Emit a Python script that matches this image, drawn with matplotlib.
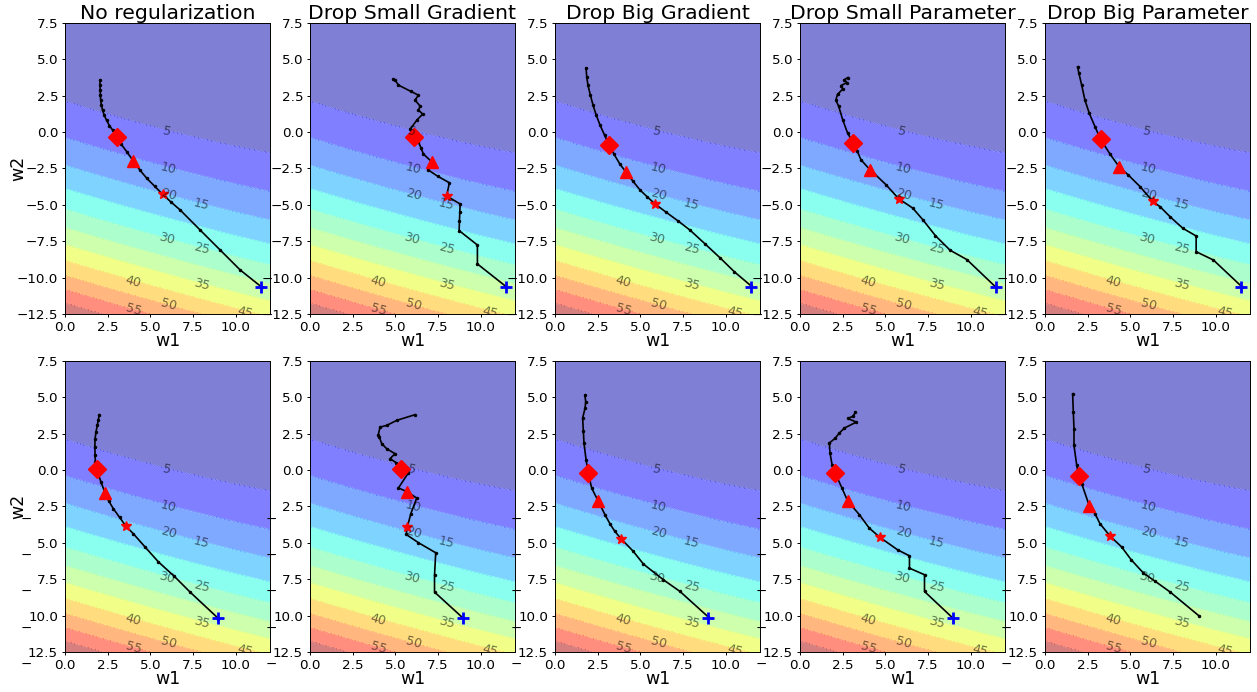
import numpy as np
import matplotlib
matplotlib.use("Agg")
import matplotlib.pyplot as plt
from matplotlib.ticker import FuncFormatter

titles = ["No regularization", "Drop Small Gradient", "Drop Big Gradient",
          "Drop Small Parameter", "Drop Big Parameter"]

levels = np.arange(5, 70, 5)
w1_grid = np.linspace(0, 12, 300)
w2_grid = np.linspace(-12.5, 7.5, 300)
curv_w2, valley_w2, valley_slope = 0.14, 8.05, 0.336
curv_w1, centre_w1, floor = 0.0105, 3.0, 5.0

# contour labels as they sit in every panel
label_text = ["5", "10", "20", "15", "30", "25", "40", "35", "55", "50", "45"]
label_w1 = [5.96, 6.05, 6.05, 8.0, 5.96, 8.0, 4.0, 8.0, 4.0, 6.05, 10.55]
label_w2 = [0.02, -2.49, -4.32, -5.0, -7.36, -7.98, -10.27, -10.45, -12.22, -11.87, -12.4]

# top row trajectories
noreg_top_w1 = [11.52, 10.25, 9.08, 7.91, 6.74, 6.2, 5.72, 5.25, 4.79, 4.38, 4.0, 3.62, 3.3, 3.03,
                2.8, 2.6, 2.44, 2.3, 2.2, 2.13, 2.09, 2.07, 2.06, 2.05, 2.05]
noreg_top_w2 = [-10.66, -9.47, -8.1, -6.73, -5.35, -4.8, -4.28, -3.72, -3.18, -2.6, -1.99, -1.35, -0.85, -0.32,
                0.12, 0.45, 0.8, 1.15, 1.5, 1.85, 2.2, 2.55, 2.9, 3.25, 3.57]
dsg_top_w1 = [11.48, 9.8, 9.8, 8.73, 8.75, 8.77, 8.79, 8.0, 8.16, 7.5, 6.93, 6.95, 7.13, 6.64, 6.5, 6.35,
              6.09, 5.86, 6.25, 6.6, 6.35, 6.45, 6.15, 6.35, 5.9, 5.18, 4.98, 4.88]
dsg_top_w2 = [-10.62, -9.06, -7.76, -6.77, -6.1, -5.5, -4.94, -4.39, -3.48, -3.05, -2.61, -2.35, -2.04, -1.51,
              -1.1, -0.66, -0.32, 0.18, 0.82, 1.24, 1.51, 1.78, 2.2, 2.54, 2.8, 3.23, 3.57, 3.62]
dbg_top_w1 = [11.48, 10.5, 9.67, 8.8, 7.9, 7.2, 6.5, 5.86, 5.4, 4.98, 4.55, 4.16, 3.8, 3.45, 3.16, 2.9,
              2.64, 2.42, 2.23, 2.07, 1.93, 1.86, 1.82]
dbg_top_w2 = [-10.57, -9.6, -8.65, -7.7, -6.73, -6.1, -5.5, -4.94, -4.45, -3.98, -3.35, -2.75, -2.2, -1.5,
              -0.89, -0.2, 0.48, 1.15, 1.85, 2.55, 3.23, 3.8, 4.39]
dsp_top_w1 = [11.45, 9.77, 8.79, 7.93, 7.19, 6.6, 5.78, 5.04, 4.36, 4.1, 3.57, 3.35, 3.13, 2.79, 2.5,
              2.27, 2.1, 2.2, 2.5, 2.4, 2.75, 2.6, 2.8]
dsp_top_w2 = [-10.64, -8.76, -8.12, -7.12, -6.02, -5.22, -4.58, -3.62, -2.86, -2.59, -1.9, -1.3, -0.76,
              -0.07, 0.85, 1.76, 2.2, 2.6, 2.95, 3.2, 3.4, 3.6, 3.75]
dbp_top_w1 = [11.52, 9.86, 8.85, 8.85, 8.07, 7.32, 6.74, 6.31, 5.57, 4.88, 4.34, 3.81, 3.26, 2.93, 2.6,
              2.34, 2.15, 1.99, 1.91]
dbp_top_w2 = [-10.62, -8.79, -8.22, -7.14, -6.61, -5.81, -5.13, -4.76, -3.75, -2.95, -2.38, -1.51, -0.5,
              0.37, 1.28, 2.2, 3.23, 4.03, 4.49]

# bottom row trajectories
noreg_bot_w1 = [8.98, 7.32, 6.4, 5.47, 4.7, 4.0, 3.57, 3.2, 2.83, 2.55, 2.34, 2.1, 1.86, 1.78, 1.76, 1.75,
                1.76, 1.82, 1.89, 1.95, 2.01]
noreg_bot_w2 = [-10.2, -8.38, -7.3, -6.31, -5.3, -4.37, -3.86, -3.25, -2.65, -2.1, -1.55, -0.8, 0.06, 0.55,
                1.02, 1.6, 2.16, 2.65, 3.07, 3.45, 3.81]
dsg_bot_w1 = [8.95, 7.29, 7.29, 7.36, 6.35, 5.63, 5.7, 5.9, 6.25, 5.7, 5.18, 5.76, 5.31, 5.04, 4.69, 4.98,
              4.49, 4.2, 4.06, 4.0, 4.1, 4.49, 5.08, 6.15]
dsg_bot_w2 = [-10.16, -8.38, -7.23, -5.68, -4.99, -4.42, -3.91, -3.0, -1.92, -1.5, -1.22, -0.19, 0.1, 0.51,
              0.79, 1.13, 1.47, 1.82, 2.27, 2.43, 2.96, 3.07, 3.42, 3.81]
dbg_bot_w1 = [8.98, 7.32, 6.35, 5.18, 4.59, 3.87, 3.5, 3.22, 2.93, 2.54, 2.15, 1.95, 1.82, 1.7, 1.66, 1.62,
              1.76, 1.8, 1.75]
dbg_bot_w2 = [-10.1, -8.34, -7.54, -6.46, -5.59, -4.72, -4.2, -3.69, -3.07, -2.15, -1.24, -0.21, 0.71, 1.86,
              2.7, 3.57, 4.26, 4.7, 5.15]
dsp_bot_w1 = [8.95, 7.29, 7.29, 6.41, 6.41, 5.72, 4.69, 4.06, 3.48, 2.79, 2.46, 2.07, 1.88, 1.76, 1.72,
              2.07, 2.3, 2.6, 3.3, 2.8, 3.1, 3.24]
dsp_bot_w2 = [-10.17, -8.34, -7.19, -6.74, -5.89, -5.48, -4.63, -3.99, -3.07, -2.11, -1.24, -0.21, 0.37,
              1.17, 1.86, 2.2, 2.54, 2.89, 3.3, 3.55, 3.7, 3.96]
dbp_bot_w1 = [9.02, 7.32, 6.45, 5.76, 5.04, 4.49, 3.81, 3.22, 2.93, 2.6, 2.15, 1.99, 1.86, 1.7, 1.7, 1.66, 1.62]
dbp_bot_w2 = [-10.02, -8.37, -7.64, -7.07, -6.15, -5.28, -4.53, -3.68, -2.99, -2.46, -0.93, -0.43, 0.33,
              1.7, 2.85, 3.99, 5.25]

top_paths = [(noreg_top_w1, noreg_top_w2), (dsg_top_w1, dsg_top_w2), (dbg_top_w1, dbg_top_w2),
             (dsp_top_w1, dsp_top_w2), (dbp_top_w1, dbp_top_w2)]
bot_paths = [(noreg_bot_w1, noreg_bot_w2), (dsg_bot_w1, dsg_bot_w2), (dbg_bot_w1, dbg_bot_w2),
             (dsp_bot_w1, dsp_bot_w2), (dbp_bot_w1, dbp_bot_w2)]

# checkpoint markers
diamond_top_w1 = [3.03, 6.09, 3.16, 3.13, 3.26]
diamond_top_w2 = [-0.32, -0.32, -0.89, -0.76, -0.5]
triangle_top_w1 = [4.0, 7.13, 4.16, 4.1, 4.34]
triangle_top_w2 = [-1.99, -2.04, -2.75, -2.59, -2.38]
star_top_w1 = [5.72, 8.0, 5.86, 5.78, 6.31]
star_top_w2 = [-4.28, -4.39, -4.94, -4.58, -4.76]
diamond_bot_w1 = [1.86, 5.31, 1.95, 2.07, 1.99]
diamond_bot_w2 = [0.06, 0.1, -0.21, -0.21, -0.43]
triangle_bot_w1 = [2.34, 5.7, 2.54, 2.79, 2.6]
triangle_bot_w2 = [-1.55, -1.5, -2.15, -2.11, -2.46]
star_bot_w1 = [3.57, 5.7, 3.87, 4.69, 3.81]
star_bot_w2 = [-3.86, -3.91, -4.72, -4.63, -4.53]
start_top = (11.5, -10.65)
start_bot = (8.97, -10.15)
show_start_bot = [True, True, True, True, False]


def loss(a, b):
    return curv_w2 * (b - valley_w2 + valley_slope * a) ** 2 + curv_w1 * (a - centre_w1) ** 2 + floor


W1, W2 = np.meshgrid(w1_grid, w2_grid)
Z = loss(W1, W2)

plt.rcParams["axes.linewidth"] = 0.7
fig, axes = plt.subplots(2, 5, figsize=(12.57, 6.92), dpi=100)
fig.subplots_adjust(left=0.0517, right=0.9944, bottom=0.0578, top=0.9668, wspace=0.195, hspace=0.1615)

rows = [(top_paths, diamond_top_w1, diamond_top_w2, triangle_top_w1, triangle_top_w2, star_top_w1, star_top_w2),
        (bot_paths, diamond_bot_w1, diamond_bot_w2, triangle_bot_w1, triangle_bot_w2, star_bot_w1, star_bot_w2)]

for r, (paths, dx, dy, tx, ty, sx, sy) in enumerate(rows):
    for c in range(5):
        ax = axes[r, c]
        ax.contourf(W1, W2, Z, levels=levels, cmap="jet", alpha=0.5, antialiased=False)
        ax.contour(W1, W2, Z, levels=levels, colors="w", linewidths=0.6, alpha=0.45)
        ax.set_xlim(0, 12)
        ax.set_ylim(-12.5, 7.5)

        # contour labels, turned along the local level line
        for txt, lx, ly in zip(label_text, label_w1, label_w2):
            h = 1e-3
            gx = (loss(lx + h, ly) - loss(lx - h, ly)) / (2 * h)
            gy = (loss(lx, ly + h) - loss(lx, ly - h)) / (2 * h)
            p0 = ax.transData.transform((lx, ly))
            p1 = ax.transData.transform((lx + gy, ly - gx))
            ang = np.degrees(np.arctan2(p1[1] - p0[1], p1[0] - p0[0]))
            if ang > 90:
                ang -= 180
            if ang < -90:
                ang += 180
            ax.text(lx, ly, txt, rotation=ang, ha="center", va="center", fontsize=9,
                    color="k", alpha=0.55, clip_on=True, rotation_mode="anchor")

        px, py = paths[c]
        ax.plot(px, py, "k.-", markersize=3, linewidth=1.2)
        ax.plot(dx[c], dy[c], "rD", markersize=9)
        ax.plot(tx[c], ty[c], "r^", markersize=8)
        ax.plot(sx[c], sy[c], "r*", markersize=7)
        if r == 0:
            ax.plot(*start_top, "b+", markersize=8, markeredgewidth=2)
            ax.set_title(titles[c], fontsize=14.7, pad=1.5)
        elif show_start_bot[c]:
            ax.plot(*start_bot, "b+", markersize=8, markeredgewidth=2)
        ax.set_xlabel("w1", fontsize=12.5, labelpad=-1)
        if c == 0:
            ax.set_ylabel("w2", fontsize=12.5)
            ax.yaxis.set_label_coords(-0.185, 0.5)
        ax.tick_params(labelsize=9.7, length=2.5, pad=2.4, width=0.7)
        if r == 1:
            # bottom row: minus signs got drawn apart from the numbers
            ax.yaxis.set_major_formatter(FuncFormatter(lambda v, p: f"{abs(v):.1f}"))
            for t in ax.get_yticks():
                if -12.6 < t < -0.1:
                    ax.annotate("\u2212", xy=(0, t), xycoords=ax.get_yaxis_transform(),
                                xytext=(-24, -9), textcoords="offset points",
                                ha="right", va="center", fontsize=9.7, annotation_clip=False)

fig.savefig("out.png", dpi=100)
